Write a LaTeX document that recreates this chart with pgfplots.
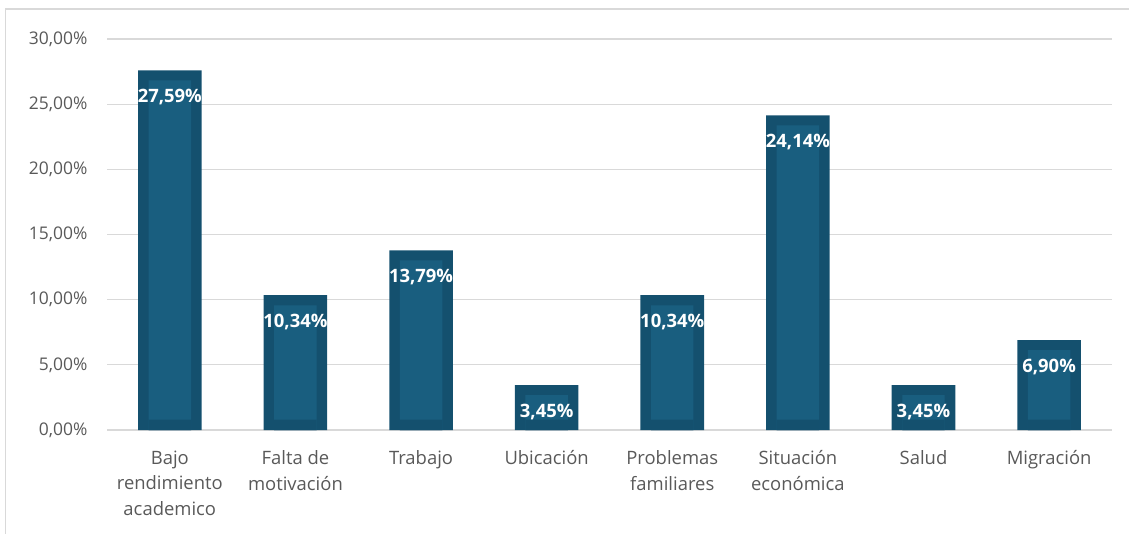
\documentclass[border=0pt]{standalone}
\usepackage{fontspec}
\setmainfont{Open Sans}
\usepackage{pgfplots}
\pgfplotsset{compat=1.18}

\definecolor{barout}{HTML}{14506E}
\definecolor{barin}{HTML}{195E7F}
\definecolor{gridc}{HTML}{D9D9D9}
\definecolor{txt}{HTML}{595959}

\begin{document}
\begin{tikzpicture}
\useasboundingbox (0,0) rectangle (1129bp,534bp);
% chart frame (top and left edge visible)
\draw[gridc, line width=1.3bp] (1129bp,525bp) -- (5.5bp,525bp) -- (5.5bp,0);

\begin{axis}[
    at={(107bp,104bp)}, anchor=south west,
    scale only axis, width=1005bp, height=391bp,
    xmin=-0.5, xmax=7.5, ymin=0, ymax=30,
    ytick={0,5,...,30},
    xtick={0,...,7},
    xticklabels={{Bajo\\rendimiento\\academico},{Falta de\\motivación},Trabajo,Ubicación,{Problemas\\familiares},{Situación\\económica},Salud,Migración},
    yticklabel={\pgfmathprintnumber[fixed,fixed zerofill,precision=2,use comma]{\tick}\%},
    /pgf/number format/assume math mode=true,
    tick label style={text=txt},
    xticklabel style={align=center, yshift=-17bp, font=\fontsize{18.5}{26}\selectfont},
    yticklabel style={xshift=-16bp, font=\fontsize{17.5}{22}\selectfont},
    major tick length=0pt,
    axis line style={draw=none},
    ymajorgrids, major grid style={gridc, line width=1.3bp},
    ybar, bar shift=0pt,
    clip=false,
]
% outer bar
\addplot[fill=barout, draw=none, bar width=0.506] coordinates {
  (0,27.59) (1,10.34) (2,13.79) (3,3.45) (4,10.34) (5,24.14) (6,3.45) (7,6.90)};
% lighter inner panel
\addplot[fill=barin, draw=none, bar width=0.338] coordinates {
  (0,26.82) (1,9.57) (2,13.02) (3,2.68) (4,9.57) (5,23.37) (6,2.68) (7,6.13)};
% dark base under the inner panel
\addplot[fill=barout, draw=none, bar width=0.338] coordinates {
  (0,0.8) (1,0.8) (2,0.8) (3,0.8) (4,0.8) (5,0.8) (6,0.8) (7,0.8)};
% value labels
\addplot[draw=none, fill=none, bar width=0.506,
    nodes near coords={\pgfmathprintnumber[fixed,fixed zerofill,precision=2,use comma]{\pgfplotspointmeta}\%},
    every node near coord/.append style={anchor=center, yshift=-27bp, text=white, font=\fontsize{18.5}{22}\selectfont\bfseries}]
  coordinates {
  (0,27.59) (1,10.34) (2,13.79) (3,3.45) (4,10.34) (5,24.14) (6,3.45) (7,6.90)};
\end{axis}
\end{tikzpicture}
\end{document}
